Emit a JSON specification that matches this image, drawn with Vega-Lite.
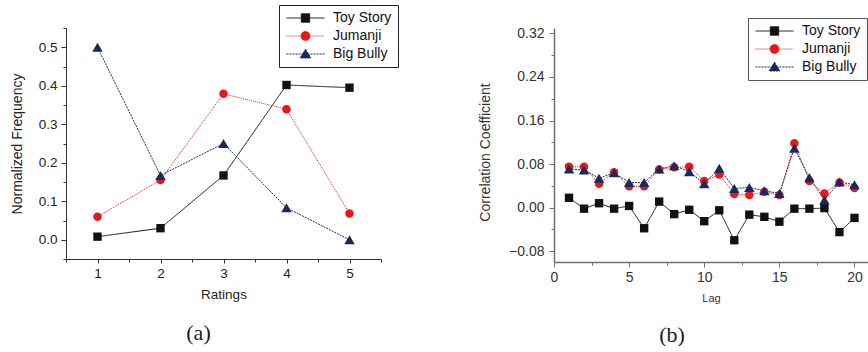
{
  "$schema": "https://vega.github.io/schema/vega-lite/v6.json",
  "background": "white",
  "padding": {"left": 10, "top": 4, "right": 0, "bottom": 0},
  "autosize": {"type": "pad"},
  "config": {
    "view": {"stroke": null},
    "font": "Liberation Sans",
    "axis": {"grid": false, "labelFont": "Liberation Sans", "titleFont": "Liberation Sans", "titleFontWeight": "normal", "labelFlush": false, "labelOverlap": false}
  },
  "datasets": {
    "a": [
      {"x": 1, "series": "Toy Story", "y": 0.008},
      {"x": 2, "series": "Toy Story", "y": 0.030},
      {"x": 3, "series": "Toy Story", "y": 0.167},
      {"x": 4, "series": "Toy Story", "y": 0.402},
      {"x": 5, "series": "Toy Story", "y": 0.395},
      {"x": 1, "series": "Jumanji", "y": 0.060},
      {"x": 2, "series": "Jumanji", "y": 0.155},
      {"x": 3, "series": "Jumanji", "y": 0.379},
      {"x": 4, "series": "Jumanji", "y": 0.339},
      {"x": 5, "series": "Jumanji", "y": 0.068},
      {"x": 1, "series": "Big Bully", "y": 0.500},
      {"x": 2, "series": "Big Bully", "y": 0.167},
      {"x": 3, "series": "Big Bully", "y": 0.250},
      {"x": 4, "series": "Big Bully", "y": 0.083},
      {"x": 5, "series": "Big Bully", "y": 0.000}
    ],
    "b": [
      {"x": 1, "series": "Toy Story", "y": 0.018},
      {"x": 2, "series": "Toy Story", "y": -0.002},
      {"x": 3, "series": "Toy Story", "y": 0.008},
      {"x": 4, "series": "Toy Story", "y": -0.002},
      {"x": 5, "series": "Toy Story", "y": 0.003},
      {"x": 6, "series": "Toy Story", "y": -0.038},
      {"x": 7, "series": "Toy Story", "y": 0.011},
      {"x": 8, "series": "Toy Story", "y": -0.012},
      {"x": 9, "series": "Toy Story", "y": -0.004},
      {"x": 10, "series": "Toy Story", "y": -0.025},
      {"x": 11, "series": "Toy Story", "y": -0.005},
      {"x": 12, "series": "Toy Story", "y": -0.060},
      {"x": 13, "series": "Toy Story", "y": -0.013},
      {"x": 14, "series": "Toy Story", "y": -0.017},
      {"x": 15, "series": "Toy Story", "y": -0.026},
      {"x": 16, "series": "Toy Story", "y": -0.002},
      {"x": 17, "series": "Toy Story", "y": -0.002},
      {"x": 18, "series": "Toy Story", "y": -0.001},
      {"x": 19, "series": "Toy Story", "y": -0.045},
      {"x": 20, "series": "Toy Story", "y": -0.019},
      {"x": 1, "series": "Jumanji", "y": 0.075},
      {"x": 2, "series": "Jumanji", "y": 0.075},
      {"x": 3, "series": "Jumanji", "y": 0.044},
      {"x": 4, "series": "Jumanji", "y": 0.065},
      {"x": 5, "series": "Jumanji", "y": 0.039},
      {"x": 6, "series": "Jumanji", "y": 0.039},
      {"x": 7, "series": "Jumanji", "y": 0.070},
      {"x": 8, "series": "Jumanji", "y": 0.074},
      {"x": 9, "series": "Jumanji", "y": 0.075},
      {"x": 10, "series": "Jumanji", "y": 0.049},
      {"x": 11, "series": "Jumanji", "y": 0.061},
      {"x": 12, "series": "Jumanji", "y": 0.025},
      {"x": 13, "series": "Jumanji", "y": 0.023},
      {"x": 14, "series": "Jumanji", "y": 0.029},
      {"x": 15, "series": "Jumanji", "y": 0.023},
      {"x": 16, "series": "Jumanji", "y": 0.118},
      {"x": 17, "series": "Jumanji", "y": 0.049},
      {"x": 18, "series": "Jumanji", "y": 0.026},
      {"x": 19, "series": "Jumanji", "y": 0.046},
      {"x": 20, "series": "Jumanji", "y": 0.036},
      {"x": 1, "series": "Big Bully", "y": 0.071},
      {"x": 2, "series": "Big Bully", "y": 0.069},
      {"x": 3, "series": "Big Bully", "y": 0.054},
      {"x": 4, "series": "Big Bully", "y": 0.064},
      {"x": 5, "series": "Big Bully", "y": 0.046},
      {"x": 6, "series": "Big Bully", "y": 0.046},
      {"x": 7, "series": "Big Bully", "y": 0.071},
      {"x": 8, "series": "Big Bully", "y": 0.077},
      {"x": 9, "series": "Big Bully", "y": 0.066},
      {"x": 10, "series": "Big Bully", "y": 0.044},
      {"x": 11, "series": "Big Bully", "y": 0.072},
      {"x": 12, "series": "Big Bully", "y": 0.035},
      {"x": 13, "series": "Big Bully", "y": 0.037},
      {"x": 14, "series": "Big Bully", "y": 0.031},
      {"x": 15, "series": "Big Bully", "y": 0.026},
      {"x": 16, "series": "Big Bully", "y": 0.109},
      {"x": 17, "series": "Big Bully", "y": 0.055},
      {"x": 18, "series": "Big Bully", "y": 0.014},
      {"x": 19, "series": "Big Bully", "y": 0.047},
      {"x": 20, "series": "Big Bully", "y": 0.042}
    ]
  },
  "spacing": 173,
  "bounds": "flush",
  "resolve": {
    "scale": {"color": "independent", "strokeDash": "independent"},
    "legend": {"color": "independent"}
  },
  "hconcat": [
    {
      "width": 315,
      "height": 231,
      "data": {"name": "a"},
      "title": {"text": "(a)", "orient": "bottom", "anchor": "middle", "frame": "group", "font": "Liberation Serif", "fontSize": 22, "fontWeight": "normal", "color": "#1a1a1a", "offset": 22, "dx": -25},
      "resolve": {"axis": {"x": "independent", "y": "independent"}},
      "layer": [
        {
          "mark": {"type": "line", "strokeWidth": 1},
          "encoding": {
            "x": {"field": "x", "type": "quantitative",
              "scale": {"domain": [0.5, 5.5], "nice": false, "zero": false},
              "axis": {"orient": "bottom", "values": [1, 2, 3, 4, 5], "format": "d", "title": "Ratings", "titleFontSize": 13.5, "titlePadding": 8, "titleColor": "#222", "labelFontSize": 13.5, "labelPadding": 3, "labelColor": "#222", "tickSize": 4, "tickColor": "#333", "domainColor": "#333"}},
            "y": {"field": "y", "type": "quantitative",
              "scale": {"domain": [-0.05, 0.55], "nice": false, "zero": false},
              "axis": {"orient": "left", "values": [0, 0.1, 0.2, 0.3, 0.4, 0.5], "format": ".1f", "title": "Normalized Frequency", "titleFontSize": 14, "titlePadding": 14, "titleColor": "#222", "labelFontSize": 13.5, "labelPadding": 4, "labelColor": "#222", "tickSize": 5, "tickColor": "#333", "domainColor": "#333"}},
            "color": {"field": "series", "type": "nominal",
              "scale": {"domain": ["Toy Story", "Jumanji", "Big Bully"], "range": ["#111111", "#e31a1c", "#1a2a5e"]}},
            "strokeDash": {"field": "series", "type": "nominal",
              "scale": {"domain": ["Toy Story", "Jumanji", "Big Bully"], "range": [[1, 0], [1, 1], [2, 1]]},
              "legend": null}
          }
        },
        {
          "transform": [{"filter": "datum.series === 'Toy Story'"}],
          "mark": {"type": "point", "filled": true, "opacity": 1, "shape": "square", "size": 70},
          "encoding": {
            "x": {"field": "x", "type": "quantitative",
              "axis": {"orient": "bottom", "values": [0.5, 1.5, 2.5, 3.5, 4.5, 5.5], "labels": false, "domain": false, "title": null, "tickSize": 3, "tickColor": "#333"}},
            "y": {"field": "y", "type": "quantitative",
              "axis": {"orient": "left", "values": [-0.05, 0.05, 0.15, 0.25, 0.35, 0.45, 0.55], "labels": false, "domain": false, "title": null, "tickSize": 3, "tickColor": "#333"}},
            "color": {"field": "series", "type": "nominal",
              "legend": {
                "orient": "none", "legendX": 213, "legendY": -23, "title": null,
                "padding": 6, "strokeColor": "#222", "fillColor": "white",
                "labelFont": "Liberation Sans", "labelFontSize": 14, "labelColor": "#111", "labelOffset": 7,
                "rowPadding": 4, "clipHeight": 14, "symbolSize": 1600, "symbolStrokeWidth": 1, "symbolOpacity": 1,
                "symbolType": {"expr": "datum.value === 'Toy Story' ? 'M-0.95,0H0.95M-0.21,-0.21H0.21V0.21H-0.21Z' : (datum.value === 'Jumanji' ? 'M-0.95,0H0.95M0.23,0A0.23,0.23 0 1,1 -0.23,0A0.23,0.23 0 1,1 0.23,0Z' : 'M-0.95,0H0.95M0,-0.24L0.27,0.2L-0.27,0.2Z')"},
                "symbolStrokeColor": {"expr": "datum.value === 'Toy Story' ? '#111111' : (datum.value === 'Jumanji' ? '#e31a1c' : '#1a2a5e')"},
                "symbolDash": {"expr": "datum.value === 'Toy Story' ? [1, 0] : (datum.value === 'Jumanji' ? [1, 1] : [2, 1])"}
              }}
          }
        },
        {
          "transform": [{"filter": "datum.series === 'Jumanji'"}],
          "mark": {"type": "point", "filled": true, "opacity": 1, "shape": "circle", "size": 72},
          "encoding": {
            "x": {"field": "x", "type": "quantitative", "axis": null},
            "y": {"field": "y", "type": "quantitative", "axis": null},
            "color": {"field": "series", "type": "nominal"}
          }
        },
        {
          "transform": [{"filter": "datum.series === 'Big Bully'"}],
          "mark": {"type": "point", "filled": true, "opacity": 1, "shape": "triangle-up", "size": 110},
          "encoding": {
            "x": {"field": "x", "type": "quantitative", "axis": null},
            "y": {"field": "y", "type": "quantitative", "axis": null},
            "color": {"field": "series", "type": "nominal"}
          }
        }
      ]
    },
    {
      "width": 314,
      "height": 234,
      "data": {"name": "b"},
      "title": {"text": "(b)", "orient": "bottom", "anchor": "middle", "frame": "group", "font": "Liberation Serif", "fontSize": 22, "fontWeight": "normal", "color": "#1a1a1a", "offset": 22, "dx": -39},
      "resolve": {"axis": {"x": "independent", "y": "independent"}},
      "layer": [
        {
          "mark": {"type": "line", "strokeWidth": 1},
          "encoding": {
            "x": {"field": "x", "type": "quantitative",
              "scale": {"domain": [0, 20.9], "nice": false, "zero": false},
              "axis": {"orient": "bottom", "values": [0, 5, 10, 15, 20], "format": "d", "title": "Lag", "titleFontSize": 11, "titlePadding": 8, "titleColor": "#333", "labelFontSize": 14, "labelPadding": 3, "labelColor": "#333", "tickSize": 5, "tickColor": "#707070", "domainColor": "#707070", "domainWidth": 1.5}},
            "y": {"field": "y", "type": "quantitative",
              "scale": {"domain": [-0.1, 0.33], "nice": false, "zero": false},
              "axis": {"orient": "left", "values": [-0.08, 0, 0.08, 0.16, 0.24, 0.32], "format": ".2f", "title": "Correlation Coefficient", "titleFontSize": 14, "titlePadding": 16, "titleY": 124, "titleColor": "#333", "labelFontSize": 14, "labelPadding": 5, "labelColor": "#333", "tickSize": 5, "tickColor": "#707070", "domainColor": "#707070", "domainWidth": 1.5}},
            "color": {"field": "series", "type": "nominal",
              "scale": {"domain": ["Toy Story", "Jumanji", "Big Bully"], "range": ["#111111", "#e31a1c", "#1a2a5e"]}},
            "strokeDash": {"field": "series", "type": "nominal",
              "scale": {"domain": ["Toy Story", "Jumanji", "Big Bully"], "range": [[1, 0], [1, 1], [2, 1]]},
              "legend": null}
          }
        },
        {
          "transform": [{"filter": "datum.series === 'Toy Story'"}],
          "mark": {"type": "point", "filled": true, "opacity": 1, "shape": "square", "size": 70},
          "encoding": {
            "x": {"field": "x", "type": "quantitative",
              "axis": {"orient": "bottom", "values": [2.5, 7.5, 12.5, 17.5], "labels": false, "domain": false, "title": null, "tickSize": 3, "tickColor": "#707070"}},
            "y": {"field": "y", "type": "quantitative",
              "axis": {"orient": "left", "values": [-0.04, 0.04, 0.12, 0.2, 0.28], "labels": false, "domain": false, "title": null, "tickSize": 3, "tickColor": "#707070"}},
            "color": {"field": "series", "type": "nominal",
              "legend": {
                "orient": "none", "legendX": 194, "legendY": -10, "title": null,
                "padding": 6, "strokeColor": "#555", "fillColor": "white",
                "labelFont": "Liberation Sans", "labelFontSize": 14, "labelColor": "#111", "labelOffset": 7,
                "rowPadding": 4, "clipHeight": 14, "symbolSize": 1600, "symbolStrokeWidth": 1, "symbolOpacity": 1,
                "symbolType": {"expr": "datum.value === 'Toy Story' ? 'M-0.95,0H0.95M-0.21,-0.21H0.21V0.21H-0.21Z' : (datum.value === 'Jumanji' ? 'M-0.95,0H0.95M0.23,0A0.23,0.23 0 1,1 -0.23,0A0.23,0.23 0 1,1 0.23,0Z' : 'M-0.95,0H0.95M0,-0.24L0.27,0.2L-0.27,0.2Z')"},
                "symbolStrokeColor": {"expr": "datum.value === 'Toy Story' ? '#111111' : (datum.value === 'Jumanji' ? '#e31a1c' : '#1a2a5e')"},
                "symbolDash": {"expr": "datum.value === 'Toy Story' ? [1, 0] : (datum.value === 'Jumanji' ? [1, 1] : [2, 1])"}
              }}
          }
        },
        {
          "transform": [{"filter": "datum.series === 'Jumanji'"}],
          "mark": {"type": "point", "filled": true, "opacity": 1, "shape": "circle", "size": 72},
          "encoding": {
            "x": {"field": "x", "type": "quantitative", "axis": null},
            "y": {"field": "y", "type": "quantitative", "axis": null},
            "color": {"field": "series", "type": "nominal"}
          }
        },
        {
          "transform": [{"filter": "datum.series === 'Big Bully'"}],
          "mark": {"type": "point", "filled": true, "opacity": 1, "shape": "triangle-up", "size": 110},
          "encoding": {
            "x": {"field": "x", "type": "quantitative", "axis": null},
            "y": {"field": "y", "type": "quantitative", "axis": null},
            "color": {"field": "series", "type": "nominal"}
          }
        }
      ]
    }
  ]
}
